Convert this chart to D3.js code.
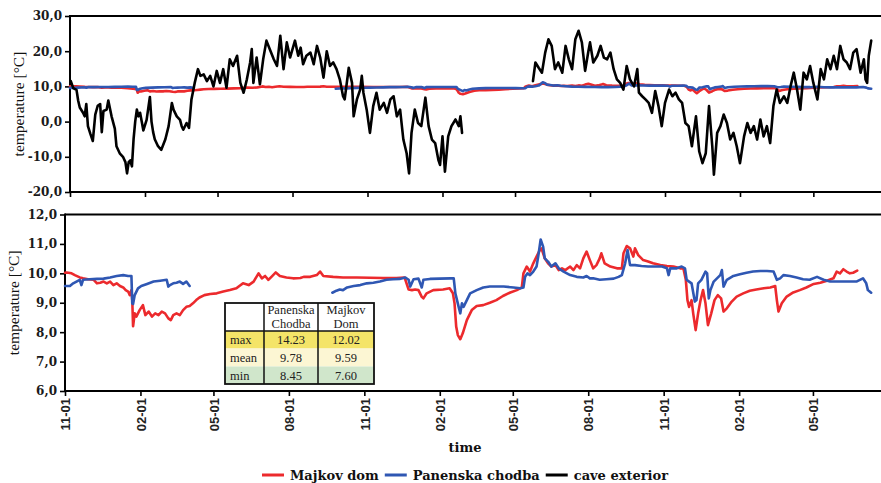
<!DOCTYPE html>
<html>
<head>
<meta charset="utf-8">
<script src="https://cdn.jsdelivr.net/npm/d3@7"></script>
<style>
  body { margin: 0; background: #fff; }
  svg { display: block; }
</style>
</head>
<body>
<svg id="chart" width="881" height="483"></svg>
<script>
// ---- data -------------------------------------------------------------
// Observation window; every series entry is [day number since 1 Nov 2009, temperature °C].
// An entry whose temperature is null marks a gap in the record.
const startDate = new Date(2009, 10, 1);
const endDate = new Date(2012, 6, 23);

const majkovDom = [
  [0,10.02],[2,10.03],[8,10.0],[12,9.94],[18,9.86],[22,9.83],[28,9.8],[35,9.78],[39,9.66],[43,9.68],
  [47,9.72],[51,9.66],[55,9.72],[59,9.6],[63,9.66],[67,9.57],[71,9.52],[74,9.43],[77,9.38],[79,9.26],
  [81,9.43],[82,9.1],[83,8.2],[85,8.64],[87,8.53],[91,8.75],[95,8.92],[98,8.58],[102,8.7],[106,8.53],
  [110,8.64],[114,8.58],[118,8.7],[122,8.64],[126,8.47],[129,8.41],[132,8.58],[136,8.64],[140,8.58],
  [144,8.75],[148,8.86],[152,8.89],[156,8.98],[160,9.09],[164,9.18],[170,9.26],[177,9.3],[185,9.32],
  [193,9.38],[201,9.43],[209,9.49],[213,9.58],[217,9.66],[224,9.6],[230,9.72],[236,10.0],[240,9.83],
  [244,9.91],[248,9.78],[252,9.89],[257,10.03],[262,9.91],[270,9.86],[278,9.83],[287,9.84],
  [291,9.88],[299,9.88],[307,9.94],[311,10.06],[315,9.91],[327,9.88],[339,9.86],[356,9.86],[372,9.85],
  [388,9.84],[404,9.84],[414,9.86],[419,9.45],[423,9.43],[427,9.45],[431,9.43],[435,9.2],[437,9.15],
  [441,9.32],[449,9.43],[461,9.45],[469,9.49],[473,9.32],[475,8.98],[477,8.19],[479,7.9],[482,7.76],
  [485,7.96],[490,8.41],[496,8.75],[502,8.89],[510,8.92],[518,9.0],[526,9.09],[534,9.23],[543,9.35],
  [551,9.43],[557,9.52],[559,10.0],[563,10.23],[567,10.06],[571,10.34],[575,10.57],[579,10.79],
  [581,10.85],[585,10.51],[589,10.34],[593,10.23],[598,10.28],[602,10.11],[606,10.17],[610,10.11],
  [616,10.23],[620,10.11],[624,10.28],[628,10.17],[632,10.51],[636,10.74],[640,10.45],
  [644,10.17],[648,10.28],[652,10.51],[654,10.68],[658,10.34],[665,10.23],[673,10.17],[679,10.17],
  [681,10.68],[685,10.93],[689,10.85],[693,10.57],[695,10.85],[699,10.62],[705,10.45],[711,10.4],
  [717,10.34],[726,10.28],[734,10.25],[742,10.23],[750,10.17],[754,10.17],[757,9.78],[759,9.09],
  [761,8.86],[764,9.09],[766,8.64],[769,8.07],[772,8.64],[775,9.09],[778,9.43],[781,8.98],[784,8.24],
  [788,8.64],[792,9.09],[796,9.26],[800,9.15],[803,8.7],[807,8.81],[813,9.04],[819,9.21],[827,9.32],
  [835,9.41],[843,9.45],[852,9.49],[860,9.52],[866,9.57],[868,9.09],[870,8.7],[874,8.98],[880,9.21],
  [888,9.35],[896,9.43],[904,9.52],[913,9.64],[921,9.68],[929,9.75],[937,9.83],[941,10.06],[945,10.0],
  [949,10.14],[953,10.06],[957,10.0],[961,10.02],[966,10.09]
];

const panenskaChodba = [
  [0,9.57],[6,9.57],[10,9.66],[18,9.78],[20,9.6],[22,9.78],[30,9.8],[39,9.81],[47,9.82],[55,9.86],
  [63,9.91],[71,9.94],[77,9.91],[81,9.91],[82,8.98],[83,8.96],[85,9.26],[89,9.49],[93,9.57],[100,9.64],
  [108,9.72],[116,9.75],[124,9.78],[126,9.55],[128,9.6],[132,9.66],[136,9.68],[140,9.72],[144,9.64],
  [148,9.72],[152,9.57],
  [200,null],
  [326,9.34],[331,9.41],[335,9.45],[339,9.43],[344,9.52],[352,9.57],[360,9.6],[368,9.66],[376,9.68],
  [384,9.72],[392,9.78],[400,9.8],[408,9.81],[415,9.86],[419,9.78],[421,9.55],[425,9.8],[431,9.82],
  [435,9.52],[437,9.78],[445,9.81],[457,9.82],[470,9.83],[474,9.83],[476,9.32],[478,9.09],[480,8.86],
  [482,8.64],[484,8.98],[486,8.86],[490,9.09],[494,9.32],[502,9.43],[510,9.52],[518,9.55],[535,9.55],
  [547,9.52],[555,9.49],[559,9.52],[561,9.88],[564,10.0],[567,9.94],[571,10.06],[575,10.23],[577,10.57],
  [580,11.15],[583,10.91],[585,10.51],[589,10.4],[593,10.23],[598,10.34],[602,10.17],[608,10.06],
  [616,9.94],[624,9.88],[632,9.86],[636,9.91],[640,9.83],
  [644,9.83],[652,9.78],[660,9.8],[669,9.82],[675,9.88],[679,9.94],[683,10.34],[686,10.79],[689,10.28],
  [695,10.28],[703,10.25],[711,10.23],[720,10.23],[728,10.23],[734,10.17],[736,9.94],[738,10.17],
  [746,10.17],[752,10.23],[756,10.17],[758,9.78],[761,9.72],[764,9.66],[768,9.04],[770,9.09],[772,9.66],
  [776,9.78],[781,10.06],[783,10.0],[785,9.15],[787,9.43],[791,9.72],[795,9.83],[799,9.94],[801,10.11],
  [803,9.55],[807,9.78],[815,9.91],[823,9.97],[831,10.02],[839,10.06],[848,10.08],[856,10.08],
  [864,10.06],[868,9.78],[872,9.83],[876,9.94],[884,9.91],[892,9.86],[900,9.8],[908,9.78],[917,9.88],
  [925,9.78],[933,9.72],[945,9.72],[953,9.72],[965,9.72],[973,9.83],[977,9.66],[979,9.43],[983,9.34]
];

const caveExterior = [
  [1,11.5],[4,9.5],[8,9],[10,6],[12,4],[16,2.5],[18,1.5],[20,5],[22,-1.3],[25,-3.5],[28,-5.5],[31,2],
  [34,4.5],[37,5],[39,-3],[41,3],[45,3.4],[47,6],[51,1.5],[55,-2],[57,-7],[61,-9],[65,-10],[68,-11.5],
  [70,-14.7],[72,-11.5],[74,-11],[76,-12.7],[78,-5],[80,0],[82,3.4],[84,1.5],[86,2.5],[88,0],[90,-2.5],
  [94,0.5],[98,7],[100,0],[102,-3],[104,-5],[108,-7],[112,-8],[117,-5],[121,-1.3],[125,5.3],[127,3.4],
  [131,1.5],[135,0.5],[137,-1.3],[139,-2.3],[143,-0.4],[146,-1.8],[149,6.3],[153,11],[157,14.9],
  [160,13],[164,13.4],[168,11.5],[172,13],[176,10],[180,14.4],[184,11],[188,14.9],[192,9.6],[196,17.7],
  [200,15.8],[205,18.7],[209,11],[213,8.2],[217,12],[221,16.8],[223,20.6],[225,11],[229,18.2],
  [233,10.6],[237,17.7],[241,23],[245,20.6],[250,17.7],[254,15.8],[258,24.4],[262,14.9],[266,22.5],
  [270,18.2],[276,23],[280,18.7],[283,21],
  [286,16.3],[290,18.7],[295,19.6],[299,16.3],[303,21.5],[307,18.2],[311,12.5],[315,20],[319,15.8],
  [323,16.8],[327,14.9],[331,12],[335,7.2],[337,6.3],[342,15.3],[346,11],[348,1.5],[352,6.3],[356,9.1],
  [358,13],[360,8.2],[364,3.4],[368,-3.2],[372,4.4],[376,8.2],[380,3.4],[385,5.3],[389,2.5],[393,6.3],
  [397,7.2],[401,1.5],[405,3.4],[409,-5.1],[413,-9],[416,-14.7],[419,-3.2],[423,3.4],[427,-0.4],
  [431,-1.3],[436,6.8],[440,-1.3],[444,-5.1],[448,-6.1],[452,-10.9],[454,-12.3],[457,-4.2],[460,-14.2],
  [464,-4.2],[468,-1.3],[473,0.6],[477,-1.3],[479,1.5],[481,-3.2],
  [520,null],
  [568,11.5],[571,16.8],[575,15.3],[579,13.9],[583,19.6],[587,23.4],[591,21.5],[595,14.9],[599,16.8],
  [604,13.9],[608,21.5],[612,17.7],[616,14.9],[620,23.4],[624,25.8],[628,22.5],[632,14.4],[636,20],
  [638,22.5],[642,16.8],[647,18.7],[651,21.5],[655,18.2],[659,17.7],[663,19.6],[667,14.9],[671,12],
  [675,11],[679,9.1],[683,15.8],[687,12],[692,10],[696,14.9],[698,8.2],[702,7.2],[706,6.3],[710,5.3],
  [714,2.5],[718,8.7],[722,4.4],[726,-1.3],[730,5.3],[735,9.1],[739,7.2],[743,8.2],[747,6.3],[751,5.3],
  [755,-0.4],[759,-1.3],[763,-7],[768,1.5],[772,-8.5],[776,-11.8],[780,-9],[784,4.4],[788,-7],
  [790,-15.1],[794,-3.2],[798,-1.3],[802,2],[806,-0.4],[810,-5.1],[814,-3.2],[818,-7],[822,-11.8],
  [827,-4.2],[831,-0.4],[835,-3.2],[839,-1.3],[843,-5.1],[847,0.6],[851,-4.2],[855,-1.3],[859,-6.1],
  [863,4.4],[867,9.1],[871,5.3],[876,7.2],[880,5.3],[884,10],[888,13.9],[892,9.1],[896,3.4],[900,13.9],
  [904,12],[908,15.8],[912,11],[917,6.3],[921,14.9],[925,12],[929,17.7],[933,14.9],[937,18.7],
  [941,14.9],[945,21.5],[949,17.7],[953,16.8],[957,14.9],[961,19.6],[965,20.6],[970,13.9],[974,17.7],
  [976,12],[978,11],[980,18.7],[983,23]
];

// axis ticks
const topTempTicks = [-20, -10, 0, 10, 20, 30];
const bottomTempTicks = [6, 7, 8, 9, 10, 11, 12];

// legend
const seriesNames = ["Majkov dom", "Panenska chodba", "cave exterior"];
const seriesColors = ["#ec2a2d", "#2f57b3", "#000000"];

// summary table
const tableHeaders = [["Panenska", "Chodba"], ["Majkov", "Dom"]];
const tableRowLabels = ["max", "mean", "min"];
const panenskaStats = ["14.23", "9.78", "8.45"];
const majkovStats = ["12.02", "9.59", "7.60"];
const tableRowFills = ["#f4e468", "#fcf6d3", "#d0e6cb"];

// ---- drawing ----------------------------------------------------------
const svg = d3.select("#chart");
const fmtTemp = v => v.toFixed(1).replace(".", ",");
const toDate = day => d3.timeDay.offset(startDate, day);
const tickDates = d3.timeMonth.range(startDate, endDate, 3);

const topBox = { left: 70, right: 881, top: 16, bottom: 192 };
const botBox = { left: 65, right: 881, top: 214.5, bottom: 391 };

const xTop = d3.scaleTime().domain([startDate, endDate]).range([topBox.left, topBox.right]);
const yTop = d3.scaleLinear().domain([-20, 30]).range([topBox.bottom, topBox.top]);
const xBot = d3.scaleTime().domain([startDate, endDate]).range([botBox.left, botBox.right]);
const yBot = d3.scaleLinear().domain([6, 12]).range([botBox.bottom, botBox.top]);

function drawFrame(box, x, y, yTicks, showDates) {
  const g = svg.append("g");
  // y axis ticks and labels
  const ya = g.append("g").attr("transform", `translate(${box.left},0)`)
    .call(d3.axisLeft(y).tickValues(yTicks).tickFormat(fmtTemp).tickSize(5).tickPadding(3));
  ya.select(".domain").remove();
  ya.selectAll(".tick line").attr("stroke", "#000").attr("stroke-width", 1.6);
  ya.selectAll(".tick text")
    .attr("fill", "#1a1a1a")
    .style("font-family", "'DejaVu Serif', serif")
    .style("font-weight", "bold")
    .style("font-size", "12px");

  // x axis ticks (and month labels on the lower panel)
  const xa = g.append("g").attr("transform", `translate(0,${box.bottom})`)
    .call(d3.axisBottom(x).tickValues(tickDates).tickFormat(d3.timeFormat("%m-%d")).tickSize(5));
  xa.select(".domain").remove();
  xa.selectAll(".tick line").attr("stroke", "#000").attr("stroke-width", 1.6);
  if (showDates) {
    xa.selectAll(".tick text")
      .attr("transform", "rotate(-90)")
      .attr("text-anchor", "end")
      .attr("x", -7)
      .attr("y", 0)
      .attr("dy", "0.36em")
      .attr("fill", "#222")
      .style("font-family", "'Liberation Sans', Arial, sans-serif")
      .style("font-weight", "bold")
      .style("font-size", "13px");
  } else {
    xa.selectAll(".tick text").remove();
  }

  // frame: left axis, top border, bottom axis
  const frame = g.append("g").attr("stroke", "#000").attr("stroke-width", 2).attr("fill", "none");
  frame.append("line").attr("x1", box.left).attr("x2", box.left).attr("y1", box.top - 1).attr("y2", box.bottom + 1);
  frame.append("line").attr("x1", box.left).attr("x2", box.right).attr("y1", box.top).attr("y2", box.top);
  frame.append("line").attr("x1", box.left).attr("x2", box.right).attr("y1", box.bottom).attr("y2", box.bottom);

  // y axis title
  g.append("text")
    .attr("transform", `translate(${box.left - 46},${(box.top + box.bottom) / 2}) rotate(-90)`)
    .attr("text-anchor", "middle")
    .attr("fill", "#111")
    .style("font-family", "'Liberation Serif', serif")
    .style("font-size", "15.5px")
    .text("temperature [°C]");
}

function drawSeries(x, y, data, color, width) {
  const line = d3.line()
    .defined(d => d[1] !== null)
    .x(d => x(toDate(d[0])))
    .y(d => y(d[1]));
  svg.append("path")
    .datum(data)
    .attr("fill", "none")
    .attr("stroke", color)
    .attr("stroke-width", width)
    .attr("stroke-linejoin", "round")
    .attr("stroke-linecap", "round")
    .attr("d", line);
}

drawFrame(topBox, xTop, yTop, topTempTicks, false);
drawFrame(botBox, xBot, yBot, bottomTempTicks, true);

// upper panel: both cave sites plus the outside air
drawSeries(xTop, yTop, majkovDom, seriesColors[0], 2.6);
drawSeries(xTop, yTop, panenskaChodba, seriesColors[1], 2.6);
drawSeries(xTop, yTop, caveExterior, seriesColors[2], 2.6);

// lower panel: cave sites on a finer scale
drawSeries(xBot, yBot, majkovDom, seriesColors[0], 2.6);
drawSeries(xBot, yBot, panenskaChodba, seriesColors[1], 2.6);

// x axis title
svg.append("text")
  .attr("x", 465).attr("y", 452)
  .attr("text-anchor", "middle")
  .attr("fill", "#111")
  .style("font-family", "'DejaVu Serif', serif")
  .style("font-weight", "bold")
  .style("font-size", "13px")
  .text("time");

// summary table
(function drawTable() {
  const tx = 225, ty = 303;
  const colW = [39, 54, 56];
  const rowH = [28, 17.5, 18, 17.5];
  const colX = [tx, tx + colW[0], tx + colW[0] + colW[1], tx + colW[0] + colW[1] + colW[2]];
  const rowY = [ty];
  rowH.forEach((h, i) => rowY.push(rowY[i] + h));
  const t = svg.append("g")
    .style("font-family", "'Liberation Serif', serif")
    .style("font-size", "12.5px")
    .attr("fill", "#222");

  t.append("rect").attr("x", tx).attr("y", ty).attr("width", colX[3] - tx).attr("height", rowH[0]).attr("fill", "#fff");
  tableRowLabels.forEach((lab, i) => {
    const y0 = rowY[i + 1], h = rowH[i + 1];
    t.append("rect").attr("x", tx).attr("y", y0).attr("width", colX[3] - tx).attr("height", h)
      .attr("fill", tableRowFills[i]);
    t.append("text").attr("x", tx + 5).attr("y", y0 + h / 2).attr("dy", "0.35em").text(lab);
    t.append("text").attr("x", (colX[1] + colX[2]) / 2).attr("y", y0 + h / 2).attr("dy", "0.35em")
      .attr("text-anchor", "middle").text(panenskaStats[i]);
    t.append("text").attr("x", (colX[2] + colX[3]) / 2).attr("y", y0 + h / 2).attr("dy", "0.35em")
      .attr("text-anchor", "middle").text(majkovStats[i]);
  });
  tableHeaders.forEach((lines, c) => {
    const cx = (colX[c + 1] + colX[c + 2]) / 2;
    lines.forEach((s, k) => {
      t.append("text").attr("x", cx).attr("y", ty + 11 + k * 14).attr("text-anchor", "middle").text(s);
    });
  });

  const grid = t.append("g").attr("stroke", "#111").attr("fill", "none");
  grid.append("rect").attr("x", tx).attr("y", ty).attr("width", colX[3] - tx).attr("height", rowY[4] - ty)
    .attr("stroke-width", 1.8);
  [colX[1], colX[2]].forEach(cx => grid.append("line").attr("x1", cx).attr("x2", cx)
    .attr("y1", ty).attr("y2", rowY[4]).attr("stroke-width", 1.5));
  grid.append("line").attr("x1", tx).attr("x2", colX[3]).attr("y1", rowY[1]).attr("y2", rowY[1])
    .attr("stroke-width", 1.5);
})();

// legend, centred under the plots
(function drawLegend() {
  const g = svg.append("g")
    .style("font-family", "'DejaVu Serif', serif")
    .style("font-weight", "bold")
    .style("font-size", "13px");
  let cursor = 0;
  const sample = 22, gapText = 6, gapItem = 6;
  seriesNames.forEach((name, i) => {
    g.append("line").attr("x1", cursor).attr("x2", cursor + sample).attr("y1", 0).attr("y2", 0)
      .attr("stroke", seriesColors[i]).attr("stroke-width", 3);
    const txt = g.append("text").attr("x", cursor + sample + gapText).attr("y", 0).attr("dy", "0.36em")
      .attr("fill", "#111").text(name);
    cursor += sample + gapText + txt.node().getComputedTextLength() + gapItem;
  });
  cursor -= gapItem;
  g.attr("transform", `translate(${465 - cursor / 2},475)`);
})();
</script>
</body>
</html>
